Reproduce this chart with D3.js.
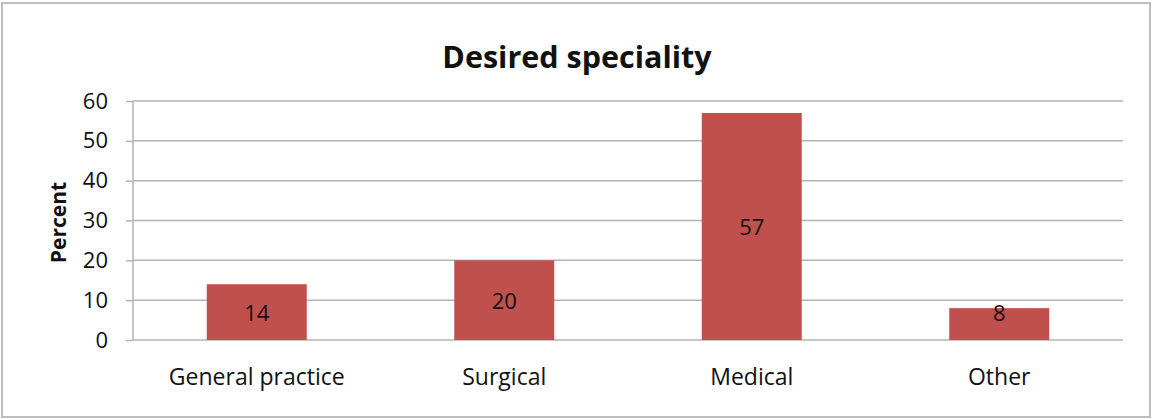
<!DOCTYPE html>
<html>
<head>
<meta charset="utf-8">
<script src="https://cdn.jsdelivr.net/npm/d3@7"></script>
<style>
  body { margin: 0; background: #fff; }
  svg { display: block; font-family: "Open Sans", Lato, sans-serif; }
</style>
</head>
<body>
<svg id="chart" width="1153" height="420"></svg>
<script>
const categories = ['General practice', 'Surgical', 'Medical', 'Other'];
const percents = [14, 20, 57, 8];
const yTicks = [0, 10, 20, 30, 40, 50, 60];

const svg = d3.select('#chart');
const margin = { left: 133, right: 30, top: 101, bottom: 80 };
const width = 1153, height = 420;
const font = '"Open Sans", Lato, sans-serif';

svg.append('rect')
  .attr('x', 2).attr('y', 3)
  .attr('width', width - 5).attr('height', height - 6)
  .attr('fill', '#fff')
  .attr('stroke', '#bdbdbd')
  .attr('stroke-width', 2);

const x = d3.scaleBand()
  .domain(categories)
  .range([margin.left, width - margin.right])
  .paddingInner(0.596)
  .paddingOuter(0.298);

const y = d3.scaleLinear()
  .domain([0, 60])
  .range([height - margin.bottom, margin.top]);

// gridlines
svg.append('g')
  .selectAll('line')
  .data(yTicks)
  .join('line')
  .attr('x1', margin.left)
  .attr('x2', width - margin.right)
  .attr('y1', (d) => y(d))
  .attr('y2', (d) => y(d))
  .attr('stroke', '#b3b3b3')
  .attr('stroke-width', 1.5);

// y axis
const yAxisG = svg.append('g')
  .attr('transform', `translate(${margin.left},0)`)
  .call(d3.axisLeft(y).tickValues(yTicks).tickSize(7).tickPadding(18));

yAxisG.selectAll('.tick line').attr('stroke', '#b3b3b3').attr('stroke-width', 1.5);
yAxisG.select('.domain').attr('stroke', '#b3b3b3').attr('stroke-width', 1.5).attr('d', `M0,${y(60)}V${y(0)}`);
yAxisG.selectAll('.tick text')
  .attr('font-size', 22).attr('fill', '#111')
  .attr('font-family', font);

// bars
svg.append('g')
  .selectAll('rect')
  .data(percents)
  .join('rect')
  .attr('x', (d, i) => x(categories[i]))
  .attr('y', (d) => y(d))
  .attr('width', x.bandwidth())
  .attr('height', (d) => y(0) - y(d))
  .attr('fill', '#c0504d');

// value labels: centred, nudged to the top on short bars
svg.append('g')
  .selectAll('text')
  .data(percents)
  .join('text')
  .attr('x', (d, i) => x(categories[i]) + x.bandwidth() / 2)
  .attr('y', (d) => (y(0) - y(d) < 40 ? y(d) + 5 : (y(d) + y(0)) / 2 + 1))
  .attr('dy', '0.35em')
  .attr('text-anchor', 'middle')
  .attr('font-size', 22)
  .attr('fill', '#111')
  .text((d) => d);

// x axis labels
svg.append('g')
  .selectAll('text')
  .data(categories)
  .join('text')
  .attr('x', (d) => x(d) + x.bandwidth() / 2)
  .attr('y', y(0) + 37)
  .attr('dy', '0.35em')
  .attr('text-anchor', 'middle')
  .attr('font-size', 23)
  .attr('fill', '#111')
  .text((d) => d);

// title
svg.append('text')
  .attr('x', 577)
  .attr('y', 57)
  .attr('dy', '0.35em')
  .attr('text-anchor', 'middle')
  .attr('font-size', 30.5)
  .attr('font-weight', 'bold')
  .attr('fill', '#111')
  .text('Desired speciality');

// y axis title
svg.append('text')
  .attr('transform', `translate(59,${(y(0) + y(60)) / 2 + 2}) rotate(-90)`)
  .attr('dy', '0.35em')
  .attr('text-anchor', 'middle')
  .attr('font-size', 21)
  .attr('font-weight', 'bold')
  .attr('fill', '#111')
  .text('Percent');
</script>
</body>
</html>
